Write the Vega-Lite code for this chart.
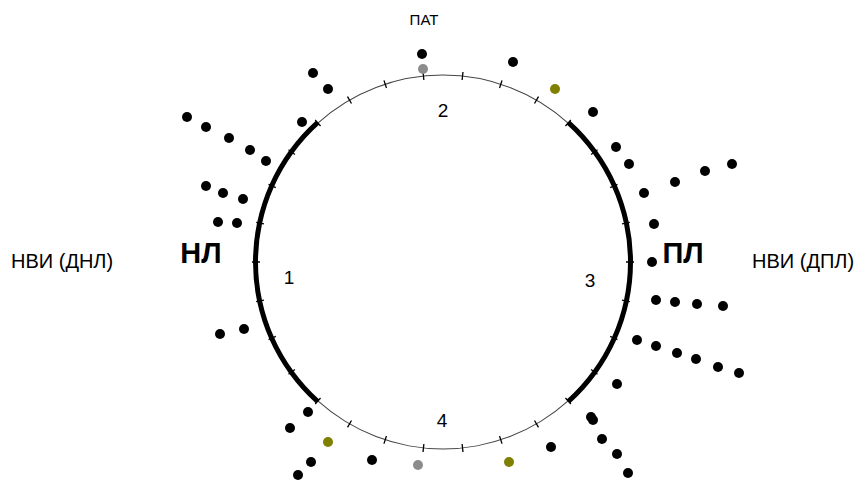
{
  "$schema": "https://vega.github.io/schema/vega-lite/v6.json",
  "width": 860,
  "height": 481,
  "padding": 0,
  "autosize": {"type": "fit", "contains": "padding"},
  "background": "white",
  "config": {"view": {"stroke": null}},
  "datasets": {
    "dots": [
      {"x": -21, "y": 208, "g": "a"}, {"x": 70, "y": 200, "g": "a"}, {"x": 150, "y": 150, "g": "a"},
      {"x": 173, "y": 115, "g": "a"}, {"x": 186, "y": 98, "g": "a"}, {"x": 201, "y": 69, "g": "a"},
      {"x": 211, "y": 38, "g": "a"}, {"x": 209, "y": 0, "g": "a"}, {"x": 232, "y": 80, "g": "a"},
      {"x": 262, "y": 91, "g": "a"}, {"x": 289, "y": 98, "g": "a"}, {"x": 213, "y": -38, "g": "a"},
      {"x": 232, "y": -40, "g": "a"}, {"x": 254, "y": -42, "g": "a"}, {"x": 280, "y": -44, "g": "a"},
      {"x": 194, "y": -78, "g": "a"}, {"x": 213, "y": -84, "g": "a"}, {"x": 234, "y": -91, "g": "a"},
      {"x": 253, "y": -97, "g": "a"}, {"x": 275, "y": -105, "g": "a"}, {"x": 296, "y": -111, "g": "a"},
      {"x": 174, "y": -122, "g": "a"}, {"x": 148, "y": -155, "g": "a"}, {"x": 150, "y": -158, "g": "a"},
      {"x": 159, "y": -177, "g": "a"}, {"x": 174, "y": -192, "g": "a"}, {"x": 185, "y": -211, "g": "a"},
      {"x": 108, "y": -185, "g": "a"}, {"x": -71, "y": -198, "g": "a"}, {"x": -135, "y": -150, "g": "a"},
      {"x": -153, "y": -166, "g": "a"}, {"x": -132, "y": -200, "g": "a"}, {"x": -145, "y": -213, "g": "a"},
      {"x": -199, "y": -67, "g": "a"}, {"x": -223, "y": -72, "g": "a"}, {"x": -225, "y": 40, "g": "a"},
      {"x": -206, "y": 39, "g": "a"}, {"x": -237, "y": 76, "g": "a"}, {"x": -220, "y": 69, "g": "a"},
      {"x": -200, "y": 63, "g": "a"}, {"x": -256, "y": 145, "g": "a"}, {"x": -237, "y": 135, "g": "a"},
      {"x": -214, "y": 124, "g": "a"}, {"x": -193, "y": 112, "g": "a"}, {"x": -177, "y": 101, "g": "a"},
      {"x": -141, "y": 140, "g": "a"}, {"x": -130, "y": 189, "g": "a"}, {"x": -115, "y": 173, "g": "a"},
      {"x": -20, "y": 193, "g": "b"}, {"x": -25, "y": -203, "g": "b"},
      {"x": 112, "y": 173, "g": "c"}, {"x": 66, "y": -200, "g": "c"}, {"x": -115, "y": -180, "g": "c"}
    ],
    "thick": [{"a": 42, "b": 138}, {"a": 222, "b": 318}],
    "thin": [{"a": 318, "b": 360}, {"a": 0, "b": 42}, {"a": 138, "b": 222}],
    "ticks": [
      {"a": 5.8, "b": 6.2}, {"a": 17.8, "b": 18.2}, {"a": 29.8, "b": 30.2}, {"a": 41.8, "b": 42.2},
      {"a": 53.8, "b": 54.2}, {"a": 65.8, "b": 66.2}, {"a": 77.8, "b": 78.2}, {"a": 89.8, "b": 90.2},
      {"a": 101.8, "b": 102.2}, {"a": 113.8, "b": 114.2}, {"a": 125.8, "b": 126.2}, {"a": 137.8, "b": 138.2},
      {"a": 149.8, "b": 150.2}, {"a": 161.8, "b": 162.2}, {"a": 173.8, "b": 174.2}, {"a": 185.8, "b": 186.2},
      {"a": 197.8, "b": 198.2}, {"a": 209.8, "b": 210.2}, {"a": 221.8, "b": 222.2}, {"a": 233.8, "b": 234.2},
      {"a": 245.8, "b": 246.2}, {"a": 257.8, "b": 258.2}, {"a": 269.8, "b": 270.2}, {"a": 281.8, "b": 282.2},
      {"a": 293.8, "b": 294.2}, {"a": 305.8, "b": 306.2}, {"a": 317.8, "b": 318.2}, {"a": 329.8, "b": 330.2},
      {"a": 341.8, "b": 342.2}, {"a": 353.8, "b": 354.2}
    ],
    "top": [
      {"x": -19, "y": 242, "t": "ПАТ"}
    ],
    "sides": [
      {"x": -432, "y": 0, "t": "НВИ (ДНЛ)"},
      {"x": 309, "y": 0, "t": "НВИ (ДПЛ)"}
    ],
    "nums": [
      {"x": 0, "y": 151, "t": "2"},
      {"x": -154, "y": -16, "t": "1"},
      {"x": 147, "y": -19, "t": "3"},
      {"x": -1, "y": -159, "t": "4"}
    ],
    "big": [
      {"x": -242, "y": 8, "t": "НЛ"},
      {"x": 240, "y": 8, "t": "ПЛ"}
    ]
  },
  "layer": [
    {
      "data": {"name": "thin"},
      "mark": {"type": "arc", "radius": 187.5, "radius2": 186.5, "color": "#444444"},
      "encoding": {
        "x": {"datum": 0, "type": "quantitative", "scale": {"domain": [-443, 417], "nice": false, "zero": false}, "axis": null},
        "y": {"datum": 0, "type": "quantitative", "scale": {"domain": [-219, 262], "nice": false, "zero": false}, "axis": null},
        "theta": {"field": "a", "type": "quantitative", "stack": null, "scale": {"domain": [0, 360], "range": [0, 6.283185307179586]}},
        "theta2": {"field": "b"}
      }
    },
    {
      "data": {"name": "thick"},
      "mark": {"type": "arc", "radius": 190, "radius2": 185, "color": "black"},
      "encoding": {
        "x": {"datum": 0, "type": "quantitative", "scale": {"domain": [-443, 417], "nice": false, "zero": false}, "axis": null},
        "y": {"datum": 0, "type": "quantitative", "scale": {"domain": [-219, 262], "nice": false, "zero": false}, "axis": null},
        "theta": {"field": "a", "type": "quantitative", "stack": null, "scale": {"domain": [0, 360], "range": [0, 6.283185307179586]}},
        "theta2": {"field": "b"}
      }
    },
    {
      "data": {"name": "ticks"},
      "mark": {"type": "arc", "radius": 191, "radius2": 183, "color": "black"},
      "encoding": {
        "x": {"datum": 0, "type": "quantitative", "scale": {"domain": [-443, 417], "nice": false, "zero": false}, "axis": null},
        "y": {"datum": 0, "type": "quantitative", "scale": {"domain": [-219, 262], "nice": false, "zero": false}, "axis": null},
        "theta": {"field": "a", "type": "quantitative", "stack": null, "scale": {"domain": [0, 360], "range": [0, 6.283185307179586]}},
        "theta2": {"field": "b"}
      }
    },
    {
      "data": {"name": "dots"},
      "mark": {"type": "point", "shape": "circle", "filled": true, "opacity": 1, "size": 100},
      "encoding": {
        "x": {"field": "x", "type": "quantitative", "scale": {"domain": [-443, 417], "nice": false, "zero": false}, "axis": null},
        "y": {"field": "y", "type": "quantitative", "scale": {"domain": [-219, 262], "nice": false, "zero": false}, "axis": null},
        "color": {"field": "g", "type": "nominal", "legend": null, "scale": {"domain": ["a", "b", "c"], "range": ["#000000", "#8c8c8c", "#7f7f00"]}}
      }
    },
    {
      "data": {"name": "top"},
      "mark": {"type": "text", "font": "Liberation Sans", "fontSize": 15, "color": "black", "align": "center", "baseline": "middle"},
      "encoding": {
        "x": {"field": "x", "type": "quantitative", "scale": {"domain": [-443, 417], "nice": false, "zero": false}, "axis": null},
        "y": {"field": "y", "type": "quantitative", "scale": {"domain": [-219, 262], "nice": false, "zero": false}, "axis": null},
        "text": {"field": "t"}
      }
    },
    {
      "data": {"name": "sides"},
      "mark": {"type": "text", "font": "Liberation Sans", "fontSize": 20, "color": "black", "align": "left", "baseline": "middle"},
      "encoding": {
        "x": {"field": "x", "type": "quantitative", "scale": {"domain": [-443, 417], "nice": false, "zero": false}, "axis": null},
        "y": {"field": "y", "type": "quantitative", "scale": {"domain": [-219, 262], "nice": false, "zero": false}, "axis": null},
        "text": {"field": "t"}
      }
    },
    {
      "data": {"name": "nums"},
      "mark": {"type": "text", "font": "Liberation Sans", "fontSize": 19, "color": "black", "align": "center", "baseline": "middle"},
      "encoding": {
        "x": {"field": "x", "type": "quantitative", "scale": {"domain": [-443, 417], "nice": false, "zero": false}, "axis": null},
        "y": {"field": "y", "type": "quantitative", "scale": {"domain": [-219, 262], "nice": false, "zero": false}, "axis": null},
        "text": {"field": "t"}
      }
    },
    {
      "data": {"name": "big"},
      "mark": {"type": "text", "font": "Liberation Sans", "fontSize": 29, "fontWeight": "bold", "color": "black", "align": "center", "baseline": "middle"},
      "encoding": {
        "x": {"field": "x", "type": "quantitative", "scale": {"domain": [-443, 417], "nice": false, "zero": false}, "axis": null},
        "y": {"field": "y", "type": "quantitative", "scale": {"domain": [-219, 262], "nice": false, "zero": false}, "axis": null},
        "text": {"field": "t"}
      }
    }
  ]
}
